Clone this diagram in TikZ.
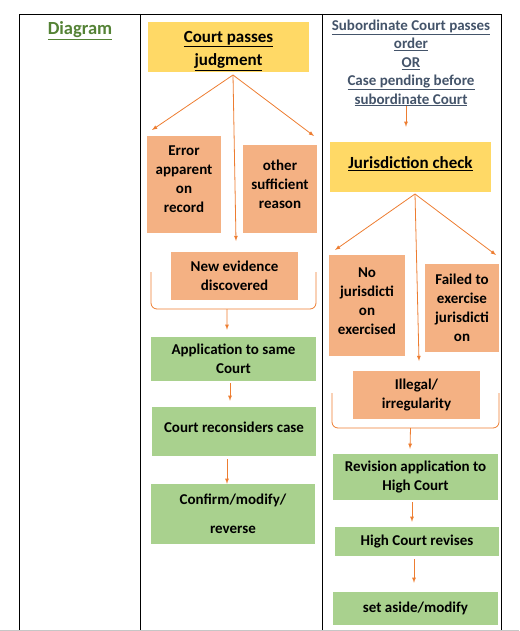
\documentclass[tikz,border=0pt]{standalone}
\usepackage{fontspec}
\setmainfont{Carlito}
\usetikzlibrary{arrows}
\definecolor{gold}{HTML}{FFD966}
\definecolor{peach}{HTML}{F4B183}
\definecolor{leaf}{HTML}{A9D18E}
\definecolor{rust}{HTML}{ED7D31}
\definecolor{moss}{HTML}{548235}
\definecolor{slate}{HTML}{44546A}
\begin{document}
\begin{tikzpicture}[x=1pt,y=-1pt,
    every node/.style={font=\fontsize{15}{19}\selectfont\bfseries,align=center,inner sep=0pt},
    head/.style={fill=gold,font=\fontsize{17}{23}\selectfont\bfseries},
    cause/.style={fill=peach},
    act/.style={fill=leaf},
    arr/.style={-latex,rust,line width=0.8pt},
    brk/.style={rust,line width=0.8pt,rounded corners=6}]
    \useasboundingbox (0,0) rectangle (519,631);
    % table
    \draw[line width=0.9pt] (19,630) -- (19,14) -- (501,14) -- (501,630)
          (140,14) -- (140,630) (322,14) -- (322,630);
    \draw[gray!45,line width=1.5pt] (0,630.5) -- (519,630.5);
    \node[moss,font=\fontsize{18.5}{22}\selectfont\bfseries] (title) at (80,30.5) {\underline{Diagram}};
    % review
    \node[head,minimum width=161,minimum height=50,text height=42pt] (judg) at (228.5,47)
         {\underline{Court passes}\\\underline{judgment}};
    \node[cause,minimum width=74,minimum height=97,text depth=10pt] (err) at (184,184.5)
         {Error\\apparent\\on\\record};
    \node[cause,minimum width=74,minimum height=88,text depth=10pt] (oth) at (280,189)
         {other\\sufficient\\reason};
    \node[cause,minimum width=127,minimum height=48] (newev) at (234.5,276)
         {New evidence\\discovered};
    \node[act,minimum width=165,minimum height=44] (appl) at (233.5,359)
         {Application to same\\Court};
    \node[act,minimum width=164,minimum height=49,text depth=8pt] (recons) at (234,431.5)
         {Court reconsiders case};
    \node[act,minimum width=164,minimum height=60,
          font=\fontsize{15}{29}\selectfont\bfseries] (conf) at (233,514)
         {Confirm/modify/\\reverse};
    \coordinate (jfoot) at (233,75);
    \coordinate (t1) at (152,130);
    \coordinate (t2) at (236,241);
    \coordinate (t3) at (314,136);
    \draw[arr] (jfoot) -- (t1);
    \draw[arr] (jfoot) -- (t2);
    \draw[arr] (jfoot) -- (t3);
    \draw[brk] (151,272) -- (151,309) -- coordinate[pos=0.46] (lb) (316,309) -- (316,272);
    \draw[arr] (lb) -- ([shift={(-6.5,-7)}]appl.north);
    \draw[arr] ([shift={(-3.5,2)}]appl.south) -- ([shift={(-4,-6)}]recons.north);
    \draw[arr] ([shift={(-7,3)}]recons.south) -- ([shift={(-6,0)}]conf.north);
    % revision
    \node[slate,font=\fontsize{15}{18.4}\selectfont\bfseries] (sub) at (411,63)
         {\underline{Subordinate Court passes}\\\underline{order}\\\underline{OR}\\
          \underline{Case pending before}\\\underline{subordinate Court}};
    \node[head,minimum width=161,minimum height=50,text depth=8pt] (juri) at (410.5,167)
         {\underline{Jurisdiction check}};
    \node[cause,minimum width=76,minimum height=101,text depth=9pt] (nojur) at (367,305.5)
         {No\\jurisdicti\\on\\exercised};
    \node[cause,minimum width=74,minimum height=88] (fail) at (462,308)
         {Failed to\\exercise\\jurisdicti\\on};
    \node[cause,minimum width=127,minimum height=48] (illeg) at (416.5,395)
         {Illegal/\\irregularity};
    \node[act,minimum width=165,minimum height=46] (rev) at (415.5,477)
         {Revision application to\\High Court};
    \node[act,minimum width=164,minimum height=29] (hcr) at (417,541.5)
         {High Court revises};
    \node[act,minimum width=165,minimum height=33] (setas) at (415.5,608.5)
         {set aside/modify};
    \draw[arr] ([shift={(-5,0)}]sub.south) -- ([shift={(-4.5,-15)}]juri.north);
    \coordinate (kfoot) at (415,194);
    \coordinate (u1) at (335,250);
    \coordinate (u2) at (419,361);
    \coordinate (u3) at (496,255);
    \draw[arr] (kfoot) -- (u1);
    \draw[arr] (kfoot) -- (u2);
    \draw[arr] (kfoot) -- (u3);
    \draw[brk] (332,393) -- (332,428) -- coordinate[pos=0.47] (rb) (499,428) -- (499,393);
    \draw[arr] (rb) -- ([shift={(-5.5,-5)}]rev.north);
    \draw[arr] ([shift={(-3.5,2)}]rev.south) -- ([shift={(-5,-5)}]hcr.north);
    \draw[arr] ([shift={(-3,3)}]hcr.south) -- ([shift={(-1.5,-9)}]setas.north);
\end{tikzpicture}
\end{document}
